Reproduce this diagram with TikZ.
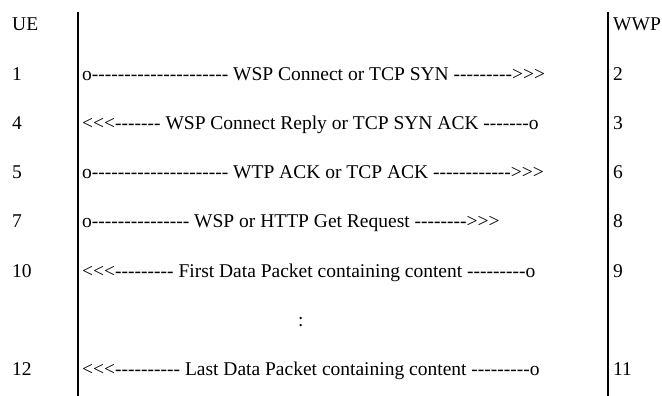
\documentclass[tikz,border=0pt]{standalone}
\usepackage{fontspec}
\setmainfont{Liberation Serif}[Ligatures=TeXOff]
\begin{document}
\begin{tikzpicture}[x=1pt,y=-1pt,
  lbl/.style={anchor=base west,inner sep=0pt,font=\fontsize{19.5}{22}\selectfont},
  msg/.style={anchor=base west,inner sep=0pt,font=\fontsize{19.5}{22}\selectfont},
  life/.style={line width=2pt,black}]
\useasboundingbox (0,0) rectangle (662,396);
% lifelines
\coordinate (ltop) at (78,12);
\coordinate (lbot) at (78,396);
\coordinate (rtop) at (608,12);
\coordinate (rbot) at (608,396);
\draw[life] (ltop) -- (lbot);
\draw[life] (rtop) -- (rbot);
% left labels
\node[lbl] (ue) at (12,31) {UE};
\node[lbl] (l1) at (12,80.2) {1};
\node[lbl] (l4) at (12,129.4) {4};
\node[lbl] (l5) at (12,178.6) {5};
\node[lbl] (l7) at (12,227.8) {7};
\node[lbl] (l10) at (12,277) {10};
\node[lbl] (l12) at (12,375.4) {12};
% right labels
\node[lbl] (wwp) at (613,31) {WWP};
\node[lbl] (r2) at (613,80.2) {2};
\node[lbl] (r3) at (613,129.4) {3};
\node[lbl] (r6) at (613,178.6) {6};
\node[lbl] (r8) at (613,227.8) {8};
\node[lbl] (r9) at (613,277) {9};
\node[lbl] (r11) at (613,375.4) {11};
% messages
\node[msg] (m1) at (82,80.2) {o--------------------- WSP Connect or TCP SYN --------->>>};
\node[msg] (m2) at (82,129.4) {<<<------- WSP Connect Reply or TCP SYN ACK -------o};
\node[msg] (m3) at (82,178.6) {o--------------------- WTP ACK or TCP ACK ------------>>>};
\node[msg] (m4) at (82,227.8) {o--------------- WSP or HTTP Get Request -------->>>};
\node[msg] (m5) at (82,277) {<<<--------- First Data Packet containing content ---------o};
\node[msg] (dots) at (298,326.2) {:};
\node[msg] (m6) at (82,375.4) {<<<---------- Last Data Packet containing content ---------o};
\end{tikzpicture}
\end{document}
